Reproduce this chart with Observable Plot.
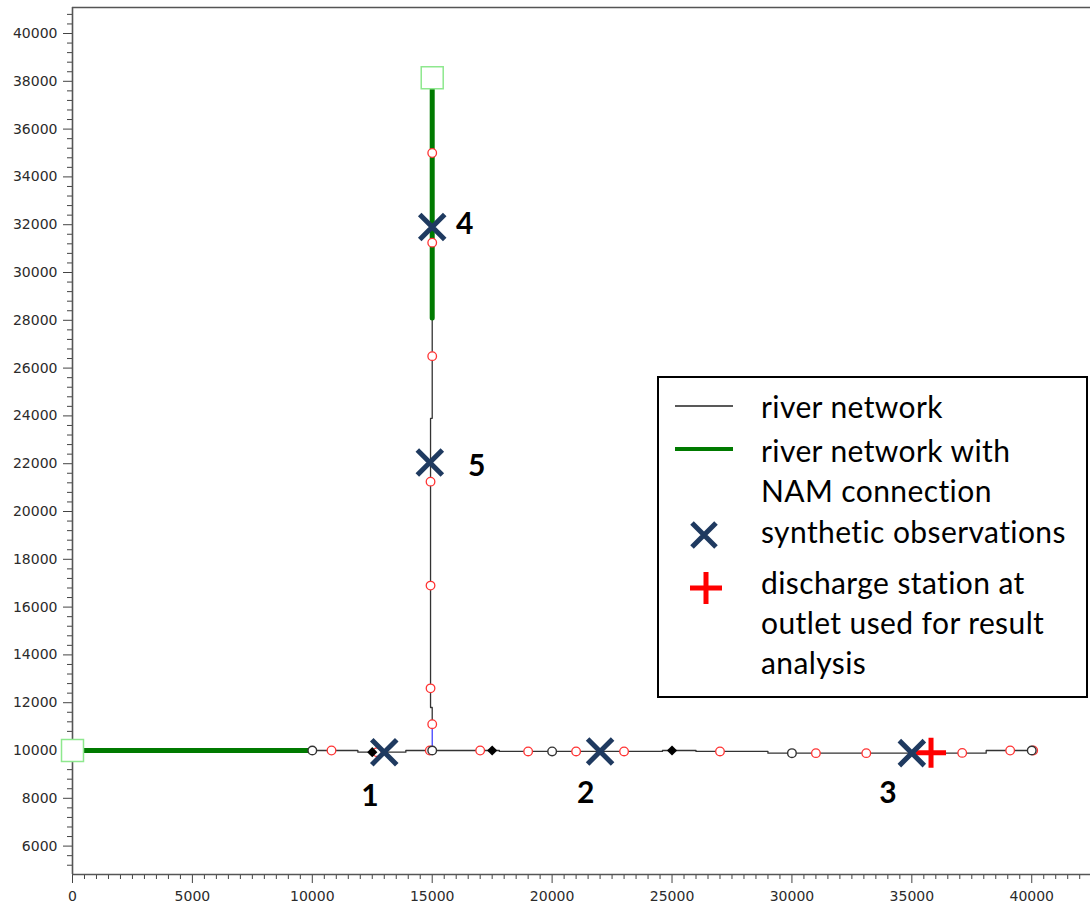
<!DOCTYPE html>
<html>
<head>
<meta charset="utf-8">
<script src="https://cdn.jsdelivr.net/npm/d3@7"></script>
<script src="https://cdn.jsdelivr.net/npm/@observablehq/plot@0.6"></script>
<style>
  html, body { margin: 0; padding: 0; background: white; }
  #wrap { position: relative; width: 1090px; height: 905px; }
  #legend { position: absolute; left: 657px; top: 376px; width: 431px; height: 322px;
            box-sizing: border-box; border: 2px solid #000; background: white; }
  #legend .t { position: absolute; left: 102px; font-family: Lato, "Open Sans", sans-serif;
               font-size: 30px; letter-spacing: 0.4px; line-height: 40px; color: #000; white-space: nowrap; }
  #legend svg { position: absolute; left: 0; top: 0; }
</style>
</head>
<body>
<div id="wrap"></div>
<script>
// ---- data (model coordinates, m) ----
const xDomain = [0, 42450];
const yDomain = [4812, 41088];
const xMajorTicks = d3.range(0, 40001, 5000);
const xMinorTicks = d3.range(0, 42451, 500).filter(v => v % 5000 !== 0);
const yMajorTicks = d3.range(6000, 40001, 2000);
const yMinorTicks = d3.range(5200, 41001, 400).filter(v => v % 2000 !== 0);

// river network (plain)
const riverMain = [[10000,10000],[11900,10000],[11900,9930],[13900,9930],[13900,10000],[17800,10000],
  [17800,9960],[24600,9960],[24600,10000],[26000,10000],[26000,9960],[29000,9960],[29000,9890],
  [38100,9890],[38100,10000],[40000,10000]];
const riverTributary = [[15000,11100],[15000,11800],[14930,11800],[14930,23900],[15000,23900],[15000,28100]];
const junctionLink = [[15000,10000],[15000,11100]];
// river network with NAM connection
const namWest = [[0,10000],[10000,10000]];
const namNorth = [[15000,28100],[15000,37700]];
// open boundaries
const boundaries = [[0,10000],[15000,38150]];
// computational nodes
const redNodes = [[10800,10000],[12700,9930],[14900,10000],[17000,10000],[19000,9960],[21000,9960],
  [23000,9960],[27000,9960],[31000,9890],[33100,9890],[37100,9900],[39100,10000],[40060,10000],
  [15000,11100],[14930,12600],[14930,16900],[14930,21250],[15000,26500],[15000,31250],[15000,35000]];
const blackNodes = [[10000,10000],[15000,10000],[20000,9960],[30000,9890],[40000,10000]];
const structureNodes = [[12500,9930],[17500,10000],[25000,10000]];
// synthetic observations
const obsIds = ["1","2","3","4","5"];
const obsX = [13000, 22000, 35000, 15000, 14900];
const obsY = [9930, 9960, 9890, 31900, 22050];
const obsLabelX = [12400, 21400, 34000, 16350, 16850];
const obsLabelY = [8100, 8200, 8200, 32000, 21900];
// discharge station
const dischargeStation = [[35800, 9910]];
// legend
const legendLines = ["river network", "river network with", "NAM connection", "synthetic observations",
  "discharge station at", "outlet used for result", "analysis"];

const observations = obsIds.map((id, i) => ({id, x: obsX[i], y: obsY[i]}));
const obsLabels = obsIds.map((id, i) => ({id, x: obsLabelX[i], y: obsLabelY[i]}));

const timesSymbol = {draw(ctx, size) { const r = Math.sqrt(size / Math.PI);
  ctx.moveTo(-r, -r); ctx.lineTo(r, r); ctx.moveTo(r, -r); ctx.lineTo(-r, r); }};
const plusSymbol = {draw(ctx, size) { const r = Math.sqrt(size / Math.PI);
  ctx.moveTo(-r, 0); ctx.lineTo(r, 0); ctx.moveTo(0, -r); ctx.lineTo(0, r); }};

const px = d => d[0], py = d => d[1];

const chart = Plot.plot({
  width: 1090, height: 905,
  marginLeft: 72, marginTop: 7, marginBottom: 31, marginRight: 0,
  x: {domain: xDomain},
  y: {domain: yDomain},
  style: {fontFamily: "DejaVu Sans", fontSize: "14px", color: "#2b2b2b", background: "white"},
  marks: [
    Plot.axisY({ticks: yMinorTicks, tickSize: 5, tickFormat: () => "", label: null, stroke: "#444"}),
    Plot.axisY({ticks: yMajorTicks, tickSize: 9, tickPadding: 6, tickFormat: d => String(d), label: null, stroke: "#444"}),
    Plot.axisX({ticks: xMinorTicks, tickSize: 5, tickFormat: () => "", label: null, stroke: "#444"}),
    Plot.axisX({ticks: xMajorTicks, tickSize: 9, tickPadding: 8, tickFormat: d => String(d), label: null, stroke: "#444"}),
    Plot.ruleX([xDomain[0]], {stroke: "#555", strokeWidth: 1.6}),
    Plot.ruleY([yDomain[0]], {stroke: "#555", strokeWidth: 1.6}),
    Plot.ruleY([yDomain[1]], {stroke: "#555", strokeWidth: 1.6}),
    Plot.line(riverMain, {x: px, y: py, stroke: "#333", strokeWidth: 1.3}),
    Plot.line(riverTributary, {x: px, y: py, stroke: "#333", strokeWidth: 1.3}),
    Plot.line(junctionLink, {x: px, y: py, stroke: "#3333ff", strokeWidth: 1.2}),
    Plot.line(namWest, {x: px, y: py, stroke: "#007a00", strokeWidth: 5}),
    Plot.line(namNorth, {x: px, y: py, stroke: "#007a00", strokeWidth: 5}),
    Plot.dot(redNodes, {x: px, y: py, r: 4.3, fill: "white", stroke: "#ff3333", strokeWidth: 1.3}),
    Plot.dot(blackNodes, {x: px, y: py, r: 4.3, fill: "white", stroke: "#333", strokeWidth: 1.4}),
    Plot.dot(structureNodes, {x: px, y: py, symbol: "diamond2", r: 4.6, fill: "black"}),
    Plot.dot(boundaries, {x: px, y: py, symbol: "square", r: 12.4, fill: "white", stroke: "#8ee88e", strokeWidth: 1.5}),
    Plot.dot(dischargeStation, {x: px, y: py, symbol: plusSymbol, r: 15, fill: "none", stroke: "#ff0000", strokeWidth: 5}),
    Plot.dot(observations, {x: "x", y: "y", symbol: timesSymbol, r: 12.5, fill: "none", stroke: "#1f3a60", strokeWidth: 5}),
    Plot.text(obsLabels, {x: "x", y: "y", text: "id", fontFamily: "Lato", fontWeight: "bold", fontSize: 30, fill: "black"})
  ]
});

const wrap = document.getElementById("wrap");
wrap.appendChild(chart);

// legend overlay inside the plot
const legend = document.createElement("div");
legend.id = "legend";
const tops = [7.7, 51.7, 91.7, 132.7, 183.7, 224.3, 264.3];
legendLines.forEach((s, i) => {
  const d = document.createElement("div");
  d.className = "t"; d.style.top = tops[i] + "px"; d.textContent = s;
  legend.appendChild(d);
});
const ns = "http://www.w3.org/2000/svg";
const svg = document.createElementNS(ns, "svg");
svg.setAttribute("width", 427); svg.setAttribute("height", 318);
svg.innerHTML = `
  <line x1="16" x2="74" y1="28" y2="28" stroke="#222" stroke-width="1.4"/>
  <line x1="16" x2="74" y1="71" y2="71" stroke="#007a00" stroke-width="4"/>
  <path d="M33,145L57,169M57,145L33,169" stroke="#1f3a60" stroke-width="5" fill="none"/>
  <path d="M31,210L63,210M47,194L47,226" stroke="#ff0000" stroke-width="5" fill="none"/>`;
legend.appendChild(svg);
wrap.appendChild(legend);
</script>
</body>
</html>
